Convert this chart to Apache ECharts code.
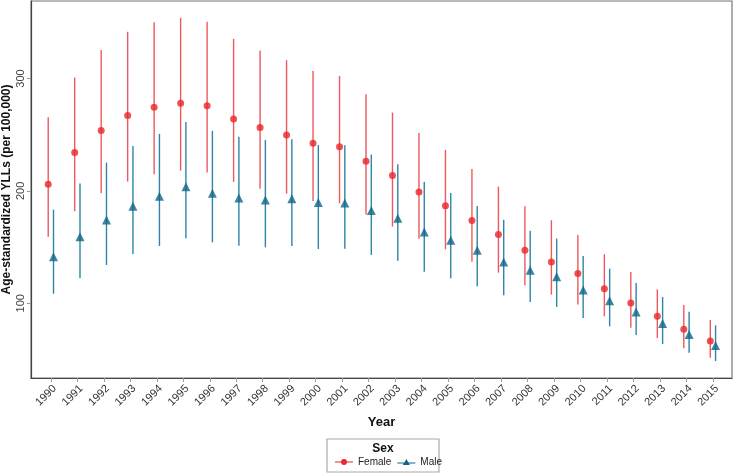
<!DOCTYPE html>
<html>
<head>
<meta charset="utf-8">
<script src="https://cdn.jsdelivr.net/npm/echarts@6/dist/echarts.min.js"></script>
<style>html,body{margin:0;padding:0;background:#fff}#c{width:734px;height:473px}</style>
</head>
<body>
<div id="c"></div>
<script>
var years = [1990,1991,1992,1993,1994,1995,1996,1997,1998,1999,2000,2001,2002,2003,2004,2005,2006,2007,2008,2009,2010,2011,2012,2013,2014,2015];
var femaleVal = [205.9,234.1,253.7,267.1,274.5,278.0,275.7,264.1,256.4,249.8,242.4,239.2,226.4,213.6,199.1,186.9,173.6,161.1,147.1,136.7,126.4,113.0,100.2,88.4,76.8,66.4];
var femaleHi  = [265.6,300.9,325.5,341.6,350.2,354.0,350.5,335.3,324.9,316.3,306.8,302.4,286.0,269.7,251.6,236.5,219.6,203.8,186.3,173.9,160.8,143.6,127.8,112.4,98.5,85.1];
var femaleLo  = [159.3,181.9,197.9,208.3,214.8,218.1,216.3,208.0,202.0,197.6,191.1,189.0,178.9,168.2,157.5,148.0,137.0,127.3,116.0,107.7,99.0,88.4,78.3,69.1,59.9,51.6];
var maleVal = [141.5,159.3,174.1,186.3,195.2,203.8,197.9,193.7,192.0,193.1,189.6,189.3,182.5,175.6,163.5,156.1,147.1,136.7,129.3,123.7,111.8,102.3,92.2,82.1,72.3,62.5];
var maleHi  = [183.3,206.5,225.2,240.0,250.7,261.4,253.4,248.1,245.4,246.0,240.9,240.6,232.3,223.7,208.0,198.2,186.6,174.4,164.6,157.5,142.1,130.8,118.0,105.6,92.5,80.3];
var maleLo  = [108.5,122.2,134.1,143.9,151.0,157.8,154.3,151.3,149.8,151.0,148.3,148.6,143.0,137.9,128.1,122.2,115.1,107.1,101.1,96.7,86.9,79.5,71.7,63.7,56.0,48.6];
var yTicks = [100,200,300];
var dodge = 0.1;

var FEMALE = '#e8262b', FEMALE_BAR = '#ec5a5e';
var MALE = '#0f6788', MALE_BAR = '#2e85a6';

function pts(vals, off){ return years.map(function(y,i){ return [y+off, vals[i]]; }); }
function bars(lo, hi, off){ return years.map(function(y,i){ return [y+off, lo[i], hi[i]]; }); }

function errRender(color){
  return function(params, api){
    var p1 = api.coord([api.value(0), api.value(1)]);
    var p2 = api.coord([api.value(0), api.value(2)]);
    return {type:'line', shape:{x1:p1[0],y1:p1[1],x2:p2[0],y2:p2[1]}, style:{stroke:color, lineWidth:1.4}};
  };
}

var chart = echarts.init(document.getElementById('c'), null, {renderer:'canvas'});
chart.setOption({
  animation:false,
  backgroundColor:'#fff',
  grid:{left:31, top:1, right:2, bottom:95, show:true, borderColor:'#777', borderWidth:1.2, containLabel:false, outerBoundsMode:'none'},
  xAxis:{
    type:'value', min:1989.25, max:2015.72,
    name:'Year', nameLocation:'middle', nameGap:38, nameMoveOverlap:false,
    nameTextStyle:{fontFamily:'Liberation Sans', fontWeight:'bold', fontSize:13, color:'#111'},
    axisLine:{show:true, lineStyle:{color:'#444', width:1.2}},
    axisTick:{show:true, length:4, lineStyle:{color:'#999'}, customValues: years},
    axisLabel:{rotate:45, verticalAlign:'top', fontFamily:'Liberation Sans', fontSize:11, color:'#333', margin:5, customValues: years, formatter:function(v){return String(Math.round(v));}},
    splitLine:{show:false}
  },
  yAxis:{
    type:'value', min:33.5, max:369,
    name:'Age-standardized YLLs (per 100,000)', nameLocation:'middle', nameGap:18, nameMoveOverlap:false,
    nameTextStyle:{fontFamily:'Liberation Sans', fontWeight:'bold', fontSize:12, color:'#111'},
    axisLine:{show:true, lineStyle:{color:'#444', width:1.2}},
    axisTick:{show:true, length:4, lineStyle:{color:'#999'}, customValues: yTicks},
    axisLabel:{rotate:90, fontFamily:'Liberation Sans', fontSize:11, color:'#444', margin:5, customValues: yTicks},
    splitLine:{show:false}
  },
  legend:{
    left:335, top:457, padding:0, itemGap:6, itemWidth:18, itemHeight:6,
    textStyle:{fontFamily:'Liberation Sans', fontSize:10, color:'#222'},
    data:[
      {name:'Female', icon:'path://M0,2.5h18v1h-18z M6,3 a3,3 0 1,1 6,0 a3,3 0 1,1 -6,0z', itemStyle:{color:FEMALE}},
      {name:'Male', icon:'path://M0,3.5h18v1h-18z M9,0 L12.5,6 L5.5,6 z', itemStyle:{color:MALE}}
    ]
  },
  graphic:[
    {type:'rect', shape:{x:327, y:439, width:112, height:33}, style:{fill:'#fff', stroke:'#aaa', lineWidth:1.2}, z:-1},
    {type:'text', x:383, y:443, style:{text:'Sex', fontFamily:'Liberation Sans', fontWeight:'bold', fontSize:12, fill:'#111', align:'center'}}
  ],
  series:[
    {name:'Female', type:'custom', renderItem:errRender(FEMALE_BAR), data:bars(femaleLo, femaleHi, -dodge), encode:{x:0, y:[1,2]}, z:1},
    {name:'Male', type:'custom', renderItem:errRender(MALE_BAR), data:bars(maleLo, maleHi, dodge), encode:{x:0, y:[1,2]}, z:1},
    {name:'Female', type:'scatter', symbol:'circle', symbolSize:7, itemStyle:{color:FEMALE}, data:pts(femaleVal, -dodge), z:3},
    {name:'Male', type:'scatter', symbol:'triangle', symbolSize:9, itemStyle:{color:MALE}, data:pts(maleVal, dodge), z:3}
  ]
});
</script>
</body>
</html>
